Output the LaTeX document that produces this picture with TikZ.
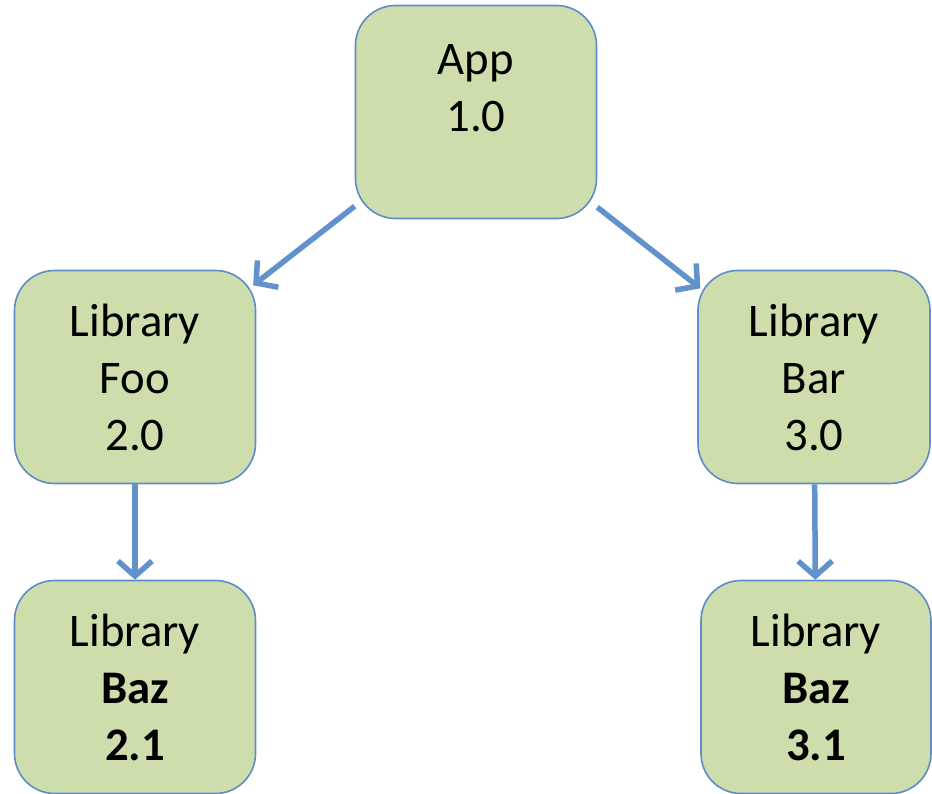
\documentclass[tikz,border=0pt]{standalone}
\usepackage{fontspec}
\setmainfont{Carlito}
\usepackage{tikz}
\usetikzlibrary{arrows.meta, positioning}
\definecolor{boxfill}{RGB}{205,221,172}
\definecolor{boxline}{RGB}{95,140,200}
\definecolor{depblue}{RGB}{98,146,203}

\tikzset{
    pkg/.style={draw=boxline, line width=1.6pt, fill=boxfill, rounded corners=40pt,
        minimum width=241pt, minimum height=213pt, align=center, inner sep=0pt,
        font=\fontsize{46.7}{57}\selectfont},
    dep/.style={draw=depblue, line width=5.5pt, -{Straight Barb[length=15pt, width=34pt]}}
}

\begin{document}
\begin{tikzpicture}[x=1pt, y=-1pt]
    \useasboundingbox (0,0) rectangle (932,794);

    % packages
    \node[pkg] (app) at (476,112) {App\\1.0\\[-26pt]\strut};
    \node[pkg] (foo) at (135,377) {Library\\Foo\\2.0};
    \node[pkg, minimum width=232pt] (bar) at (814,377) {Library\\Bar\\3.0};
    \node[pkg] (bazl) at (135,687) {Library\\\textbf{Baz}\\\textbf{2.1}};
    \node[pkg, minimum width=230pt] (bazr) at (816,687) {Library\\\textbf{Baz}\\\textbf{3.1}};

    % dependencies
    \draw[dep, shorten >=-4pt] (app) -- (foo);
    \draw[dep, shorten >=-4pt] (app) -- (bar);
    \draw[dep] (foo) -- (bazl);
    \draw[dep] (bar) -- (bazr);
\end{tikzpicture}
\end{document}
